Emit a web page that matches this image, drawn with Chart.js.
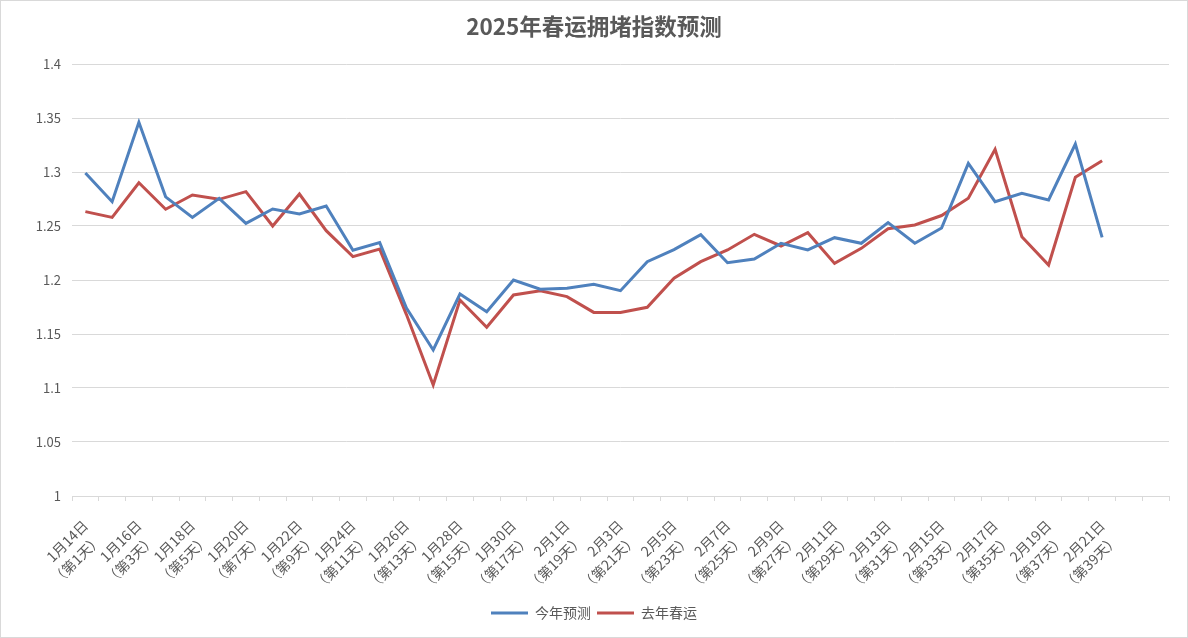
<!DOCTYPE html>
<html>
<head>
<meta charset="utf-8">
<title>2025年春运拥堵指数预测</title>
<script src="https://cdn.jsdelivr.net/npm/chart.js@4.4.1/dist/chart.umd.min.js"></script>
<style>
  html, body { margin: 0; padding: 0; background: #fff; }
  #wrap { width: 1188px; height: 638px; }
</style>
</head>
<body>
<div id="wrap"><canvas id="myChart" width="1188" height="638"></canvas></div>
<script>
// x categories: 41 days, data only for the first 39
var dates = ['1月14日','1月15日','1月16日','1月17日','1月18日','1月19日','1月20日','1月21日','1月22日','1月23日',
  '1月24日','1月25日','1月26日','1月27日','1月28日','1月29日','1月30日','1月31日','2月1日','2月2日',
  '2月3日','2月4日','2月5日','2月6日','2月7日','2月8日','2月9日','2月10日','2月11日','2月12日',
  '2月13日','2月14日','2月15日','2月16日','2月17日','2月18日','2月19日','2月20日','2月21日','',''];
var dayTags = ['（第1天）','（第2天）','（第3天）','（第4天）','（第5天）','（第6天）','（第7天）','（第8天）','（第9天）','（第10天）',
  '（第11天）','（第12天）','（第13天）','（第14天）','（第15天）','（第16天）','（第17天）','（第18天）','（第19天）','（第20天）',
  '（第21天）','（第22天）','（第23天）','（第24天）','（第25天）','（第26天）','（第27天）','（第28天）','（第29天）','（第30天）',
  '（第31天）','（第32天）','（第33天）','（第34天）','（第35天）','（第36天）','（第37天）','（第38天）','（第39天）','',''];

var thisYear = [1.299, 1.2725, 1.346, 1.277, 1.258, 1.2756, 1.2525, 1.2657, 1.2611, 1.2685,
  1.2275, 1.2346, 1.174, 1.1352, 1.187, 1.1707, 1.2, 1.1914, 1.1923, 1.196,
  1.1901, 1.217, 1.2281, 1.242, 1.216, 1.2194, 1.234, 1.2278, 1.2392, 1.234,
  1.2532, 1.234, 1.2481, 1.308, 1.2725, 1.2803, 1.2741, 1.3259, 1.2395];
var lastYear = [1.2633, 1.258, 1.290, 1.2655, 1.2787, 1.2747, 1.2818, 1.25, 1.2796, 1.2457,
  1.2216, 1.2286, 1.168, 1.1028, 1.1815, 1.1562, 1.1861, 1.1901, 1.1846, 1.170,
  1.170, 1.1747, 1.2016, 1.217, 1.2278, 1.2423, 1.2315, 1.2438, 1.2154, 1.2293,
  1.2475, 1.2509, 1.2597, 1.2757, 1.321, 1.2401, 1.2139, 1.2951, 1.3105];

var yMin = 1, yMax = 1.4, yStep = 0.05;

var fontFam = '"Noto Sans CJK SC", "Liberation Sans", sans-serif';
var grey = '#595959';
var gridGrey = '#d9d9d9';

// white background + thin frame like the Excel chart area
var frame = {
  id: 'frame',
  beforeDraw(chart) {
    const c = chart.ctx;
    c.save();
    c.fillStyle = '#fff';
    c.fillRect(0, 0, chart.width, chart.height);
    c.strokeStyle = gridGrey;
    c.lineWidth = 1;
    c.strokeRect(0.5, 0.5, chart.width - 1, chart.height - 1);
    c.restore();
  }
};

const ctx = document.getElementById('myChart');
const myChart = new Chart(ctx, {
  type: 'line',
  data: {
    labels: dates,
    datasets: [{
      label: '今年预测',
      data: thisYear,
      borderColor: '#4f81bd',
      backgroundColor: '#4f81bd',
      borderWidth: 3,
      pointRadius: 0,
      tension: 0
    }, {
      label: '去年春运',
      data: lastYear,
      borderColor: '#c0504d',
      backgroundColor: '#c0504d',
      borderWidth: 3,
      pointRadius: 0,
      tension: 0
    }]
  },
  options: {
    responsive: false,
    animation: false,
    layout: { padding: { left: 0, right: 0, top: 0, bottom: 8 } },
    plugins: {
      title: {
        display: true,
        text: '2025年春运拥堵指数预测',
        color: grey,
        font: { family: fontFam, size: 22.5, weight: 'bold' },
        padding: { top: 13, bottom: 24 }
      },
      legend: {
        position: 'bottom',
        labels: {
          color: grey,
          font: { family: fontFam, size: 14 },
          usePointStyle: true,
          pointStyle: 'line',
          pointStyleWidth: 37,
          boxHeight: 14,
          padding: 6
        }
      },
      tooltip: { enabled: false }
    },
    scales: {
      x: {
        offset: true,
        grid: {
          offset: true,
          drawOnChartArea: false,
          drawTicks: true,
          tickLength: 5,
          color: gridGrey
        },
        border: { color: gridGrey },
        ticks: {
          autoSkip: false,
          minRotation: 45,
          maxRotation: 45,
          padding: 15,
          color: grey,
          font: { family: fontFam, size: 14, lineHeight: 1.4 },
          callback: function(v, i) {
            if (i % 2 != 0 || dates[i] == '') return '';
            return [dates[i], dayTags[i]];
          }
        },
        afterFit: function(scale) { scale.height = 104; }
      },
      y: {
        min: yMin,
        max: yMax,
        grid: { color: gridGrey, drawTicks: false },
        border: { display: false },
        ticks: {
          stepSize: yStep,
          padding: 11,
          color: grey,
          font: { family: fontFam, size: 13 },
          callback: function(v) { return String(+v.toFixed(2)); }
        },
        afterFit: function(scale) { scale.width = 72; }
      },
      // empty right axis, only keeps the 19px gap so title and legend stay centred on the page
      yRight: {
        position: 'right',
        display: true,
        grid: { drawOnChartArea: false, drawTicks: false },
        border: { display: false },
        ticks: { display: false },
        afterFit: function(scale) { scale.width = 19; }
      }
    }
  },
  plugins: [frame]
});
</script>
</body>
</html>
